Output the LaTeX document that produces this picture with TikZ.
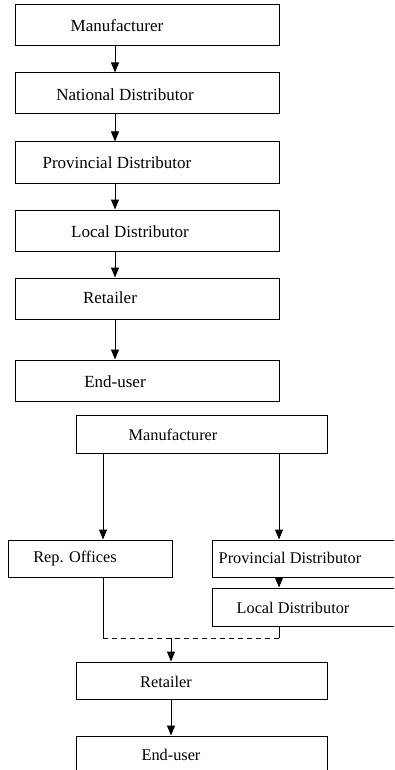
\documentclass[tikz,border=0pt]{standalone}
\usepackage{fontspec}
\setmainfont{Liberation Serif}
\usetikzlibrary{arrows.meta}

\begin{document}
\begin{tikzpicture}[x=1pt, y=-1pt,
    box/.style={draw, line width=1pt, inner sep=0pt},
    lbl/.style={inner sep=0pt, font=\fontsize{17}{20}\selectfont},
    slbl/.style={inner sep=0pt, font=\fontsize{16.3}{19}\selectfont},
    arr/.style={line width=1pt, -{Triangle[length=10pt, width=8pt]}},
    link/.style={line width=1pt},
    dashlink/.style={line width=1pt, dash pattern=on 5pt off 4pt}]
  \clip (0,0) rectangle (394,770);
  % long chain
  \node[box, minimum width=264pt, minimum height=41pt] (B1) at (147, 25.5) {};
  \node[box, minimum width=264pt, minimum height=41pt] (B2) at (147, 93.5) {};
  \node[box, minimum width=264pt, minimum height=41pt] (B3) at (147, 162.5) {};
  \node[box, minimum width=264pt, minimum height=41pt] (B4) at (147, 230.5) {};
  \node[box, minimum width=264pt, minimum height=41pt] (B5) at (147, 298.5) {};
  \node[box, minimum width=264pt, minimum height=41pt] (B6) at (147, 380.5) {};
  \node[lbl] (T1) at (117, 26) {Manufacturer};
  \node[lbl] (T2) at (125, 95) {National Distributor};
  \node[lbl] (T3) at (117, 163) {Provincial Distributor};
  \node[lbl] (T4) at (130, 232) {Local Distributor};
  \node[lbl] (T5) at (110, 298) {Retailer};
  \node[lbl] (T6) at (115, 382) {End-user};
  \coordinate (AX) at (115, 0);
  \draw[arr] (B1.south -| AX) -- (B2.north -| AX);
  \draw[arr] (B2.south -| AX) -- (B3.north -| AX);
  \draw[arr] (B3.south -| AX) -- (B4.north -| AX);
  \draw[arr] (B4.south -| AX) -- (B5.north -| AX);
  \draw[arr] (B5.south -| AX) -- (B6.north -| AX);
  % short chain
  \node[box, minimum width=251pt, minimum height=38pt] (M) at (201.5, 434) {};
  \node[box, minimum width=164pt, minimum height=37pt] (R) at (90, 558.5) {};
  \node[box, minimum width=208pt, minimum height=37pt] (P) at (316, 558.5) {};
  \node[box, minimum width=208pt, minimum height=38pt] (L) at (316, 607) {};
  \node[box, minimum width=251pt, minimum height=37pt] (S) at (201.5, 680.5) {};
  \node[box, minimum width=251pt, minimum height=38pt] (E) at (201.5, 755) {};
  \node[slbl] (TM) at (173, 435) {Manufacturer};
  \node[slbl] (TR) at (75, 558) {Rep. Offices};
  \node[slbl] (TP) at (290, 558) {Provincial Distributor};
  \node[slbl] (TL) at (293, 608) {Local Distributor};
  \node[slbl] (TS) at (166, 682) {Retailer};
  \node[slbl] (TE) at (171, 755) {End-user};
  \coordinate (DL) at (103, 638);
  \coordinate (DR) at (279, 638);
  \coordinate (DM) at (171, 638);
  \draw[arr] (M.south -| DL) -- (R.north -| DL);
  \draw[arr] (M.south -| DR) -- (P.north -| DR);
  \draw[arr] (P.south -| DR) -- (L.north -| DR);
  \draw[link] (R.south -| DL) -- (DL);
  \draw[dashlink] (DL) -- (DR);
  \draw[link] (DR) -- (L.south -| DR);
  \draw[arr] (DM) -- (S.north -| DM);
  \draw[arr] (S.south -| DM) -- (E.north -| DM);
\end{tikzpicture}
\end{document}
